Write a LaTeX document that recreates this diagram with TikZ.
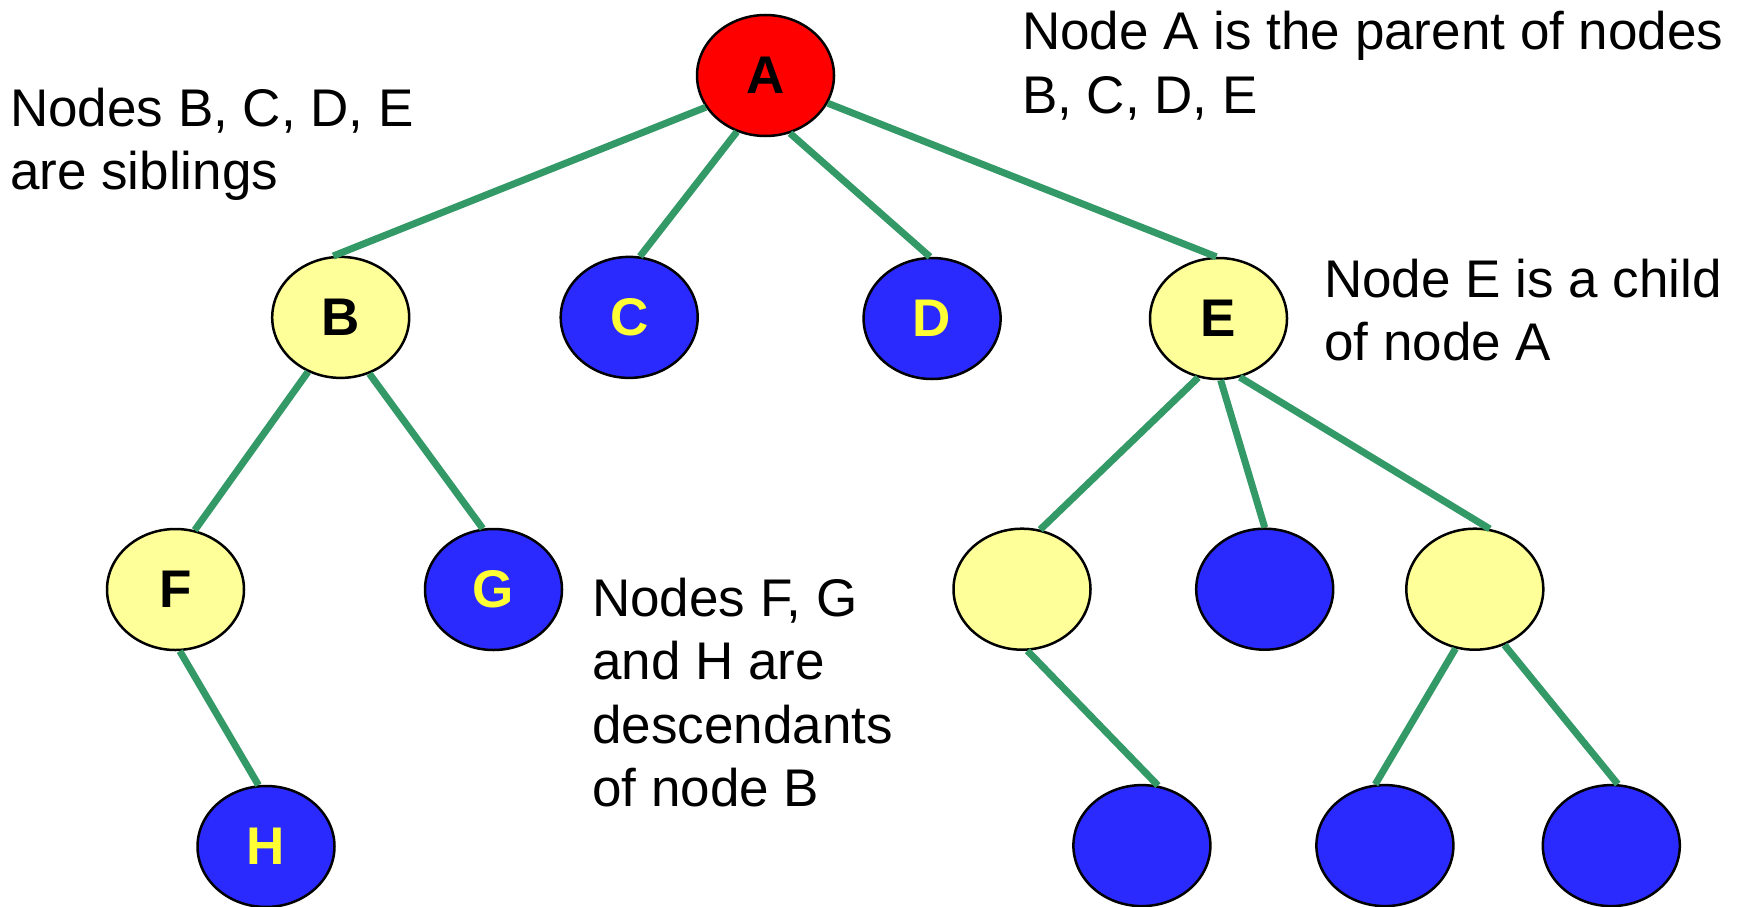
\documentclass[tikz,border=0pt]{standalone}
\usepackage{fontspec}
\setmainfont{Liberation Sans}
\usetikzlibrary{shapes.geometric}
\definecolor{edgegreen}{RGB}{51,153,102}
\definecolor{nodered}{RGB}{255,0,0}
\definecolor{nodeblue}{RGB}{42,42,255}
\definecolor{nodeyellow}{RGB}{255,255,153}
\definecolor{lettery}{RGB}{255,255,51}
\tikzset{
  treenode/.style={ellipse, draw=black, line width=2.5pt, minimum width=137pt, minimum height=121pt, inner sep=0pt, font=\fontsize{53}{60}\selectfont\bfseries},
  rednode/.style={treenode, fill=nodered, text=black},
  bluenode/.style={treenode, fill=nodeblue, text=lettery},
  yellownode/.style={treenode, fill=nodeyellow, text=black},
  edge/.style={draw=edgegreen, line width=7pt},
  note/.style={anchor=base west, inner sep=0pt, font=\fontsize{53}{63.3}\selectfont}
}
\begin{document}
\begin{tikzpicture}[x=1pt,y=-1pt]
\useasboundingbox (0,0) rectangle (1740,907);
% nodes
\node[rednode] (A) at (765.5,75.5) {A};
\node[yellownode] (B) at (340.7,317.4) {B};
\node[bluenode] (C) at (629.2,317.4) {C};
\node[bluenode] (D) at (932.1,318.5) {D};
\node[yellownode] (E) at (1218.5,318.5) {E};
\node[yellownode] (F) at (175.5,589.5) {F};
\node[bluenode] (G) at (493.5,589.5) {G};
\node[bluenode] (H) at (266,846.5) {H};
\node[yellownode] (E1) at (1022,589.2) {};
\node[bluenode] (E2) at (1264.7,589.2) {};
\node[yellownode] (E3) at (1474.8,589.2) {};
\node[bluenode] (L1) at (1141.9,845.6) {};
\node[bluenode] (L2) at (1384.9,845.6) {};
\node[bluenode] (L3) at (1611.3,845.6) {};
% connectors
\draw[edge] (A.208) -- (B.97);
\draw[edge] (A.243) -- (C.80);
\draw[edge] (A.293) -- (D.92);
\draw[edge] (A.336) -- (E.92);
\draw[edge] (B.239) -- (F.72);
\draw[edge] (B.297) -- (G.100);
\draw[edge] (F.274) -- (H.97);
\draw[edge] (E.251) -- (E1.73);
\draw[edge] (E.272) -- (E2.90);
\draw[edge] (E.290) -- (E3.76);
\draw[edge] (E1.275) -- (L1.75);
\draw[edge] (E3.252) -- (L2.99);
\draw[edge] (E3.298) -- (L3.84);
% notes
\node[note] (sib) at (10,126) {\vtop{\hbox{Nodes B, C, D, E}\hbox{are siblings}}};
\node[note] (par) at (1022,50) {\vtop{\hbox{Node A is the parent of nodes}\hbox{B, C, D, E}}};
\node[note] (chi) at (1324,297.5) {\vtop{\hbox{Node E is a child}\hbox{of node A}}};
\node[note] (des) at (592,616.5) {\vtop{\hbox{Nodes F, G}\hbox{and H are}\hbox{descendants}\hbox{of node B}}};
\end{tikzpicture}
\end{document}
